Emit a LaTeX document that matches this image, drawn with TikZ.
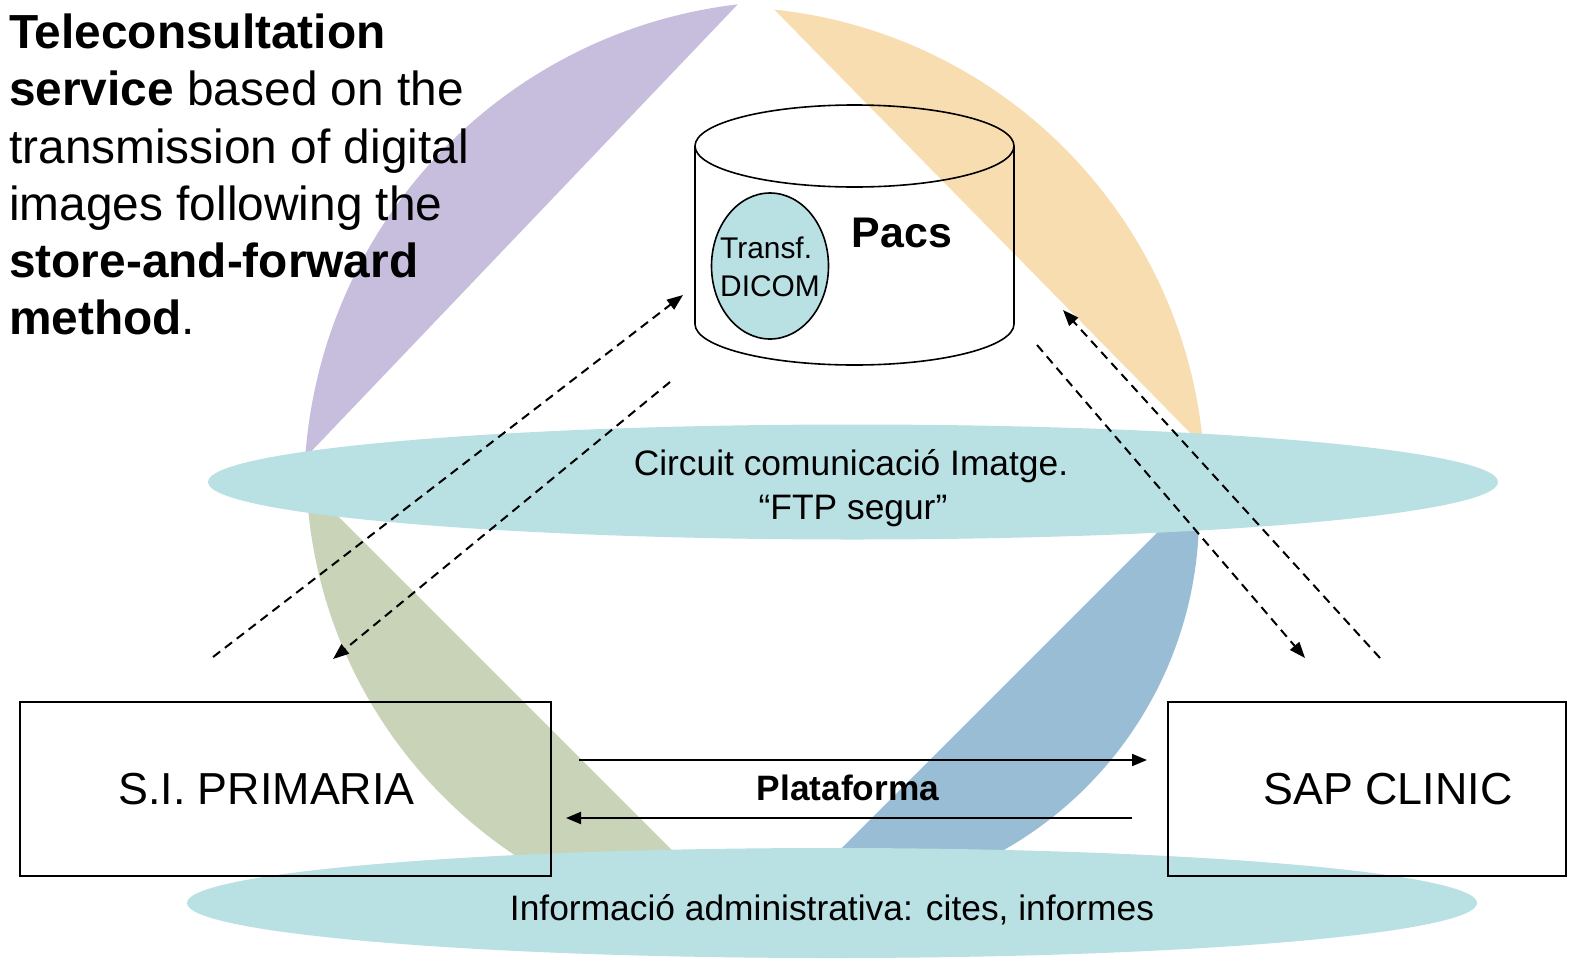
\documentclass[tikz,border=0pt]{standalone}
\usepackage{fontspec}
\setmainfont{Liberation Sans}
\usetikzlibrary{arrows.meta,shapes.geometric}
\definecolor{segpurple}{HTML}{C6BEDC}
\definecolor{segorange}{HTML}{F8DDB1}
\definecolor{seggreen}{HTML}{C9D3B8}
\definecolor{segblue}{HTML}{98BDD5}
\definecolor{tealc}{HTML}{B9E0E3}
\begin{document}
\begin{tikzpicture}[x=1bp,y=-1bp,
  tealell/.style={ellipse, fill=tealc, draw=none, inner sep=0pt},
  boxnode/.style={rectangle, draw=black, line width=1.6bp, inner sep=0pt},
  dasharrow/.style={line width=2bp, dash pattern=on 9bp off 6bp, -{Triangle[length=16bp,width=12bp]}},
  solidarrow/.style={line width=2bp, -{Triangle[length=15bp,width=12bp]}},
  lbl/.style={inner sep=0pt, anchor=base},
]
\useasboundingbox (0,0) rectangle (1576,965);
\fill[white] (0,0) rectangle (1576,965);

% coloured segments (circular chords)
\fill[segpurple] (795,492) ++(96.7:491bp) arc[start angle=96.7, end angle=176, radius=491bp] -- cycle;
\fill[segorange] (724,488) ++(84:481bp) arc[start angle=84, end angle=5, radius=481bp] -- cycle;
\fill[seggreen] (775,465) ++(182.4:469bp) arc[start angle=182.4, end angle=267.6, radius=469bp] -- cycle;
\fill[segblue] (813,514.5) ++(3.4:386bp) arc[start angle=3.4, end angle=-93.4, radius=386bp] -- cycle;

% teal bands
\node[tealell, minimum width=1290bp, minimum height=115bp] (circ) at (853,482) {};
\node[tealell, minimum width=1290bp, minimum height=110bp] (info) at (832,903) {};
\node[lbl, font=\fontsize{35.5}{42}\selectfont] (circA) at (851,475.6) {Circuit comunicació Imatge.};
\node[lbl, font=\fontsize{35.5}{42}\selectfont] (circB) at (853,519) {“FTP segur”};
\node[lbl, font=\fontsize{35.5}{42}\selectfont] (infotxt) at (832,920) {Informació administrativa: cites, informes};

% PACS cylinder
\draw[line width=1.6bp] (854.5,146) ellipse [x radius=159.5bp, y radius=41bp];
\draw[line width=1.6bp] (695,146) -- (695,324) arc[start angle=180, end angle=360, x radius=159.5bp, y radius=41bp] -- (1014,146);
\node[ellipse, fill=tealc, draw=black, line width=1.6bp, minimum width=117bp, minimum height=146bp, inner sep=0pt] (dicom) at (770,266) {};
\node[inner sep=0pt, anchor=base west, font=\fontsize{30}{37}\selectfont] (transf) at (720,258) {Transf.};
\node[inner sep=0pt, anchor=base west, font=\fontsize{30}{37}\selectfont] (dicomtxt) at (720,296) {DICOM};
\node[lbl, font=\fontsize{43}{50}\selectfont\bfseries] (pacs) at (902,247) {Pacs};

% boxes
\node[boxnode, minimum width=531bp, minimum height=174bp] (prim) at (285.5,789) {};
\node[boxnode, minimum width=398bp, minimum height=174bp] (sap) at (1367,789) {};
\node[lbl, font=\fontsize{45}{52}\selectfont] (primtxt) at (266.5,804) {S.I. PRIMARIA};
\node[lbl, font=\fontsize{45}{52}\selectfont] (saptxt) at (1388,804) {SAP CLINIC};

% platform arrows
\coordinate (p1s) at (579,760);
\coordinate (p1e) at (1147,760);
\coordinate (p2s) at (1132,818);
\coordinate (p2e) at (566,818);
\draw[solidarrow] (p1s) -- (p1e);
\draw[solidarrow] (p2s) -- (p2e);
\node[lbl, font=\fontsize{35.4}{42}\selectfont\bfseries] (plat) at (848,800) {Plataforma};

% dashed arrows
\coordinate (a1s) at (213,657);
\coordinate (a1e) at (683,295);
\coordinate (a2s) at (670,382);
\coordinate (a2e) at (333,659);
\coordinate (a3s) at (1037,345);
\coordinate (a3e) at (1305,658);
\coordinate (a4s) at (1380,658);
\coordinate (a4e) at (1063,310);
\draw[dasharrow] (a1s) -- (a1e);
\draw[dasharrow] (a2s) -- (a2e);
\draw[dasharrow] (a3s) -- (a3e);
\draw[dasharrow] (a4s) -- (a4e);

% intro text
\node[anchor=north west, align=left, inner sep=0pt, font=\fontsize{48}{57.3}\selectfont] (intro) at (9,14) {\textbf{Teleconsultation}\\ \textbf{service} based on the\\ transmission of digital\\ images following the\\ \textbf{store-and-forward}\\ \textbf{method}.};
\end{tikzpicture}
\end{document}
